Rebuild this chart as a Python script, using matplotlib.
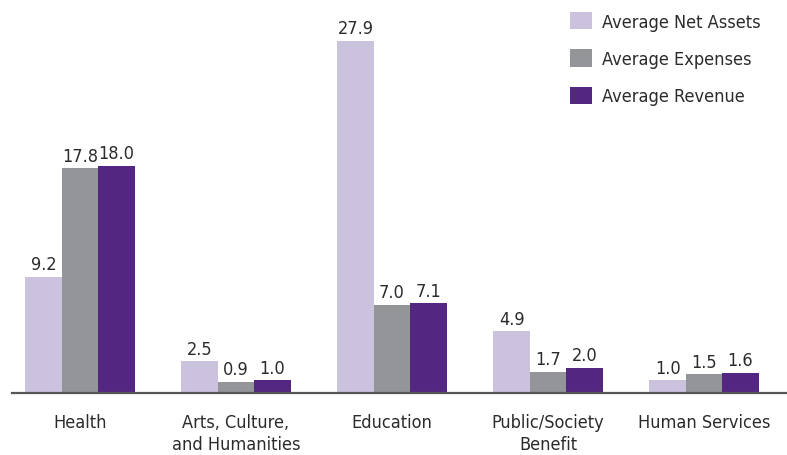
import matplotlib
matplotlib.use("Agg")
import matplotlib.pyplot as plt
from matplotlib import font_manager
import numpy as np

categories = ["Health", "Arts, Culture,\nand Humanities", "Education",
              "Public/Society\nBenefit", "Human Services"]
series_names = ["Average Net Assets", "Average Expenses", "Average Revenue"]
net_assets = [9.2, 2.5, 27.9, 4.9, 1.0]
expenses = [17.8, 0.9, 7.0, 1.7, 1.5]
revenue = [18.0, 1.0, 7.1, 2.0, 1.6]
colors = ["#CBC3DE", "#939598", "#532682"]

# prefer a narrow face for the labels
fonts = font_manager.fontManager.ttflist
names = {f.name for f in fonts}
has_dv_cond = any(f.name == "DejaVu Sans" and "Condensed" in f.fname for f in fonts)
if "Liberation Sans Narrow" in names:
    plt.rcParams["font.family"] = ["Liberation Sans Narrow", "DejaVu Sans"]
else:
    plt.rcParams["font.family"] = ["DejaVu Sans"]
    if has_dv_cond:
        plt.rcParams["font.stretch"] = "condensed"

W, H = 787, 456
fig = plt.figure(figsize=(W / 100, H / 100), dpi=100)
ax = fig.add_axes([12 / W, 62 / H, 1 - 12 / W, 394 / H])

x = np.arange(len(categories))
bw = 0.233
text_color = "#2b2b2b"
fs = 13
for k, (vals, col) in enumerate(zip([net_assets, expenses, revenue], colors)):
    pos = x + (k - 1) * bw
    ax.bar(pos, vals, width=bw, color=col, label=series_names[k], zorder=2)
    for px_, v in zip(pos, vals):
        ax.annotate(f"{v:.1f}", (px_, v), xytext=(0, 2.5), textcoords="offset points",
                    ha="center", va="bottom", fontsize=fs, color=text_color)

ax.set_xlim(-0.436, 4.532)
ax.set_ylim(0, 31.22)
for s in ["top", "right", "left"]:
    ax.spines[s].set_visible(False)
ax.spines["bottom"].set_color("#555555")
ax.spines["bottom"].set_linewidth(1.6)
ax.spines["bottom"].set_zorder(3)
ax.set_yticks([])
ax.set_xticks(x)
ax.set_xticklabels(categories, fontsize=fs, color=text_color, linespacing=1.3)
ax.tick_params(axis="x", length=0, pad=14.5)

leg = ax.legend(loc="upper left", bbox_to_anchor=(557 / W, 1.0 - 0.5 / H),
                bbox_transform=fig.transFigure, frameon=False, fontsize=fs,
                handlelength=1.25, handleheight=1.1, handletextpad=0.55,
                labelspacing=1.02, borderaxespad=0.3)
for t in leg.get_texts():
    t.set_color(text_color)

fig.savefig("out.png", dpi=100)
